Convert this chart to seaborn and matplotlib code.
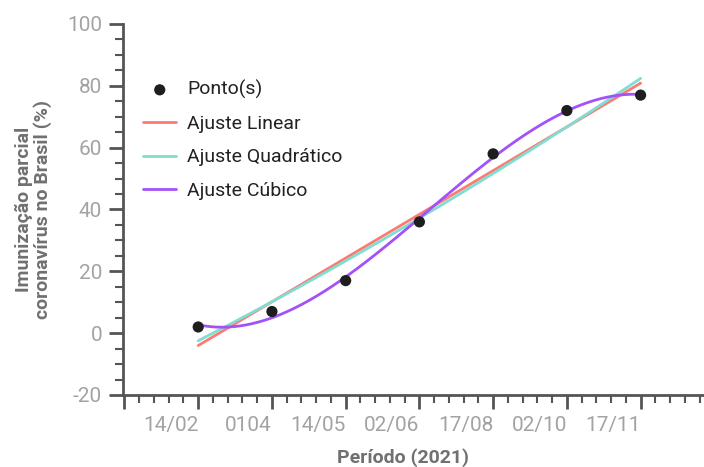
import numpy as np
import pandas as pd
import matplotlib
matplotlib.use("Agg")
import matplotlib.pyplot as plt
import seaborn as sns
from matplotlib.ticker import MultipleLocator

sns.set_theme(style="white")
plt.rcParams['font.family'] = ['Roboto', 'DejaVu Sans']
plt.rcParams['axes.unicode_minus'] = False

# Data
periods = ["14/02", "0104", "14/05", "02/06", "17/08", "02/10", "17/11"]
x_idx = [1, 2, 3, 4, 5, 6, 7]
immunization = [2, 7, 17, 36, 58, 72, 77]

df = pd.DataFrame({"x": x_idx, "y": immunization})

xs = np.linspace(min(x_idx), max(x_idx), 300)
fits = {}
for deg, name in [(1, "Ajuste Linear"), (2, "Ajuste Quadrático"), (3, "Ajuste Cúbico")]:
    coef = np.polyfit(x_idx, immunization, deg)
    fits[name] = np.polyval(coef, xs)

colors = {"Ajuste Linear": "#fb7b74", "Ajuste Quadrático": "#80ddd2", "Ajuste Cúbico": "#a352f7"}

fig = plt.figure(figsize=(7.04, 4.67), dpi=100)
ax = fig.add_axes([123/704, 1-395/467, 581/704, 371/467])

for name, ys in fits.items():
    sns.lineplot(x=xs, y=ys, ax=ax, color=colors[name], linewidth=2, label=name)
sns.scatterplot(data=df, x="x", y="y", ax=ax, color="#1e1e1e", s=65, edgecolor="none",
                label="Ponto(s)", zorder=5)

ax.set_xlim(-0.02, 7.86)
ax.set_ylim(-20, 100)

ax.set_xticks(range(0, 8))
ax.set_xticklabels([""] + periods, ha="right")
ax.xaxis.set_minor_locator(MultipleLocator(0.2))
ax.set_yticks(range(-20, 101, 20))
ax.yaxis.set_minor_locator(MultipleLocator(5))

spine_col = "#555555"
for s in ["top", "right"]:
    ax.spines[s].set_visible(False)
for s in ["left", "bottom"]:
    ax.spines[s].set_color(spine_col)
    ax.spines[s].set_linewidth(2)

ax.tick_params(axis="both", which="major", direction="out", length=10, width=2,
               color=spine_col, labelcolor="#a3a3a3", labelsize=15, pad=5,
               bottom=True, left=True)
ax.tick_params(axis="both", which="minor", direction="out", length=6, width=1.5,
               color=spine_col, bottom=True, left=True)

ax.set_xlabel("Período (2021)", fontsize=14, fontweight="bold", color="#707070")
ax.set_ylabel("Imunização parcial\ncoronavírus no Brasil (%)", fontsize=14,
              fontweight="bold", color="#707070", linespacing=1.05)
ax.yaxis.set_label_coords(-0.122, 0.5)
ax.xaxis.set_label_coords(0.482, -0.143)

handles, labels = ax.get_legend_handles_labels()
order = ["Ponto(s)", "Ajuste Linear", "Ajuste Quadrático", "Ajuste Cúbico"]
hmap = dict(zip(labels, handles))
leg = ax.legend([hmap[k] for k in order], order, loc="upper left",
                bbox_to_anchor=(0.0214, 0.87), frameon=False, fontsize=14,
                handlelength=1.7, handletextpad=0.55, labelspacing=0.8,
                borderaxespad=0)
for t in leg.get_texts():
    t.set_color("#222222")

fig.savefig("out.png", dpi=100)
